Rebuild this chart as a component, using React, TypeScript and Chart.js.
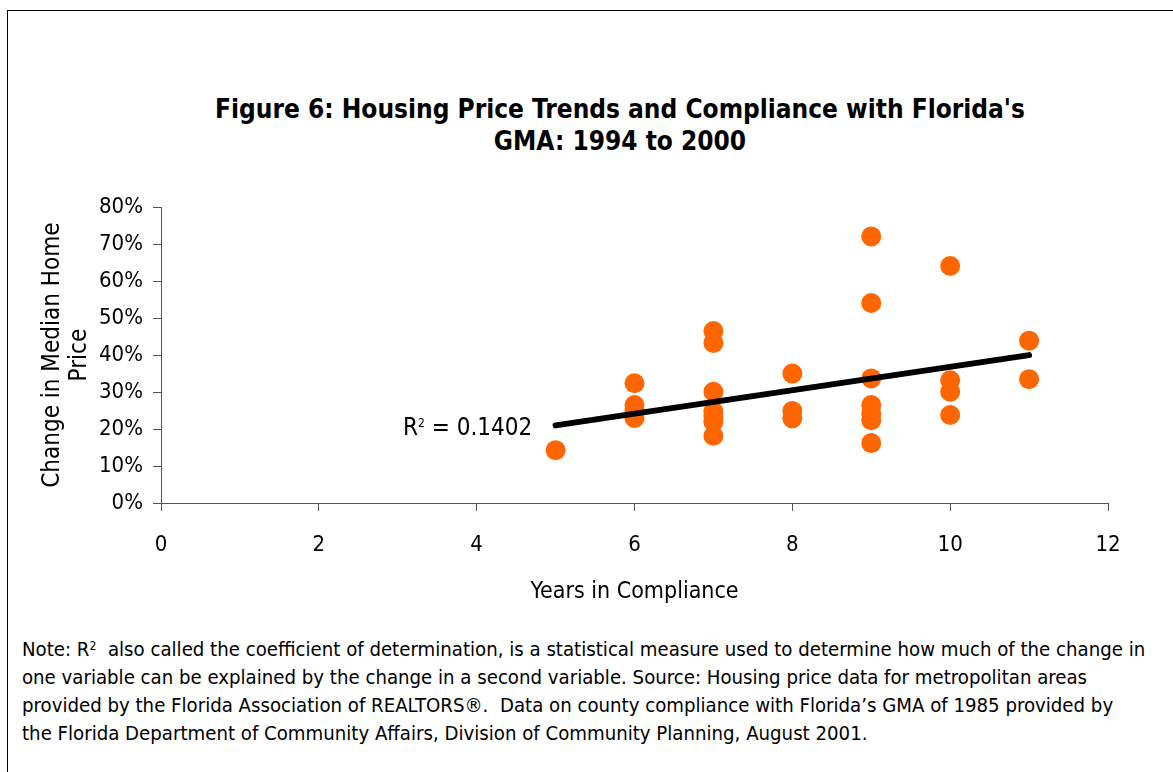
import React, { useEffect, useRef } from "react";
import { Chart, registerables } from "chart.js";

Chart.register(...registerables);

const FONT = '"Liberation Sans Narrow", "DejaVu Sans Condensed", "Arial Narrow", sans-serif';

// Years in compliance for each county (x) and change in median home price, % (y)
const years: number[] = [
  5,
  6, 6, 6, 6,
  7, 7, 7, 7, 7, 7, 7,
  8, 8, 8,
  9, 9, 9, 9, 9, 9, 9,
  10, 10, 10, 10,
  11, 11,
];
const priceChange: number[] = [
  14.3,
  32.4, 26.5, 25.0, 23.0,
  46.5, 43.3, 30.1, 24.7, 23.5, 22.0, 18.2,
  35.0, 24.9, 22.9,
  72.1, 54.1, 33.7, 26.5, 24.3, 22.4, 16.2,
  64.1, 33.2, 30.1, 23.8,
  43.9, 33.5,
];
// Linear trendline end points as drawn
const trendX: number[] = [5, 11];
const trendY: number[] = [21.0, 40.0];

const xTicks: number[] = [0, 2, 4, 6, 8, 10, 12];
const yTicks: number[] = [0, 10, 20, 30, 40, 50, 60, 70, 80];

const titleLines: string[] = [
  "Figure 6: Housing Price Trends and Compliance with Florida's",
  "GMA: 1994 to 2000",
];
const yTitle: string[] = ["Change in Median Home", "Price"];
const xTitle = "Years in Compliance";
const r2Label = "0.1402";
const noteLines: string[] = [
  "also called the coefficient of determination, is a statistical measure used to determine how much of the change in",
  "one variable can be explained by the change in a second variable. Source: Housing price data for metropolitan areas",
  "provided by the Florida Association of REALTORS®.\u00a0 Data on county compliance with Florida’s GMA of 1985 provided by",
  "the Florida Department of Community Affairs, Division of Community Planning, August 2001.",
];

export default function App() {
  const ref = useRef<HTMLCanvasElement | null>(null);

  useEffect(() => {
    if (!ref.current) return;
    const chart = new Chart(ref.current, {
      type: "scatter",
      data: {
        datasets: [
          {
            type: "line",
            data: trendX.map((x, i) => ({ x, y: trendY[i] })),
            borderColor: "#000000",
            borderWidth: 6,
            borderCapStyle: "round",
            pointRadius: 0,
            fill: false,
          } as any,
          {
            data: years.map((x, i) => ({ x, y: priceChange[i] })),
            backgroundColor: "#FF6600",
            borderColor: "#FF6600",
            borderWidth: 0,
            pointRadius: 10,
            pointHoverRadius: 10,
          },
        ],
      },
      options: {
        animation: false,
        responsive: false,
        maintainAspectRatio: false,
        events: [],
        layout: { padding: { top: 12, right: 65, bottom: 0, left: 0 } },
        plugins: { legend: { display: false }, tooltip: { enabled: false } },
        scales: {
          x: {
            type: "linear",
            min: 0,
            max: 12,
            afterBuildTicks: (s: any) => {
              s.ticks = xTicks.map((v) => ({ value: v }));
            },
            afterFit: (s: any) => {
              s.height = 107;
            },
            ticks: {
              color: "#000",
              font: { family: FONT, size: 22 },
              padding: 21,
              maxRotation: 0,
            },
            grid: {
              display: true,
              drawOnChartArea: false,
              drawTicks: true,
              tickLength: 8,
              color: "#555",
            },
            border: { display: true, color: "#555", width: 1 },
            title: {
              display: true,
              text: xTitle,
              color: "#000",
              font: { family: FONT, size: 23 },
              padding: { top: 0, bottom: 4 },
            },
          },
          y: {
            type: "linear",
            min: 0,
            max: 80,
            afterBuildTicks: (s: any) => {
              s.ticks = yTicks.map((v) => ({ value: v }));
            },
            afterFit: (s: any) => {
              s.width = 161;
            },
            ticks: {
              color: "#000",
              font: { family: FONT, size: 22 },
              padding: 10,
              callback: (v: any) => `${v}%`,
            },
            grid: {
              display: true,
              drawOnChartArea: false,
              drawTicks: true,
              tickLength: 8,
              color: "#555",
            },
            border: { display: true, color: "#555", width: 1 },
            title: {
              display: true,
              text: yTitle,
              color: "#000",
              font: { family: FONT, size: 24, lineHeight: 1.1 },
              padding: { top: 40, bottom: 0 },
            },
          },
        },
      },
    });
    return () => chart.destroy();
  }, []);

  return (
    <div style={{ fontFamily: FONT }}>
      <div
        style={{
          position: "absolute",
          left: 7,
          top: 10,
          width: 1166,
          height: 762,
          borderLeft: "1.5px solid #000",
          borderTop: "1.5px solid #000",
          boxSizing: "border-box",
        }}
      />
      <div
        style={{
          position: "absolute",
          left: 0,
          top: 93,
          width: 1240,
          textAlign: "center",
          fontWeight: "bold",
          fontSize: 26,
          lineHeight: "32px",
          color: "#000",
        }}
      >
        {titleLines.map((t, i) => (
          <div key={i}>{t}</div>
        ))}
      </div>
      <canvas
        ref={ref}
        width={1173}
        height={426}
        style={{ position: "absolute", left: 0, top: 184, width: 1173, height: 426 }}
      />
      <div
        style={{
          position: "absolute",
          left: 403,
          top: 412,
          fontSize: 24,
          lineHeight: "30px",
          color: "#000",
          whiteSpace: "nowrap",
        }}
      >
        R<sup style={{ fontSize: 12, verticalAlign: "top", position: "relative", top: -4 }}>2</sup> = {r2Label}
      </div>
      <div
        style={{
          position: "absolute",
          left: 22,
          top: 635,
          fontSize: 20.2,
          lineHeight: "28px",
          color: "#000",
          whiteSpace: "nowrap",
        }}
      >
        {noteLines.map((t, i) => (
          <div key={i}>
            {i === 0 ? (
              <>
                Note: R<sup style={{ fontSize: 12, verticalAlign: "top", position: "relative", top: -3 }}>2</sup>{"\u00a0\u00a0"}
              </>
            ) : null}
            {t}
          </div>
        ))}
      </div>
    </div>
  );
}
